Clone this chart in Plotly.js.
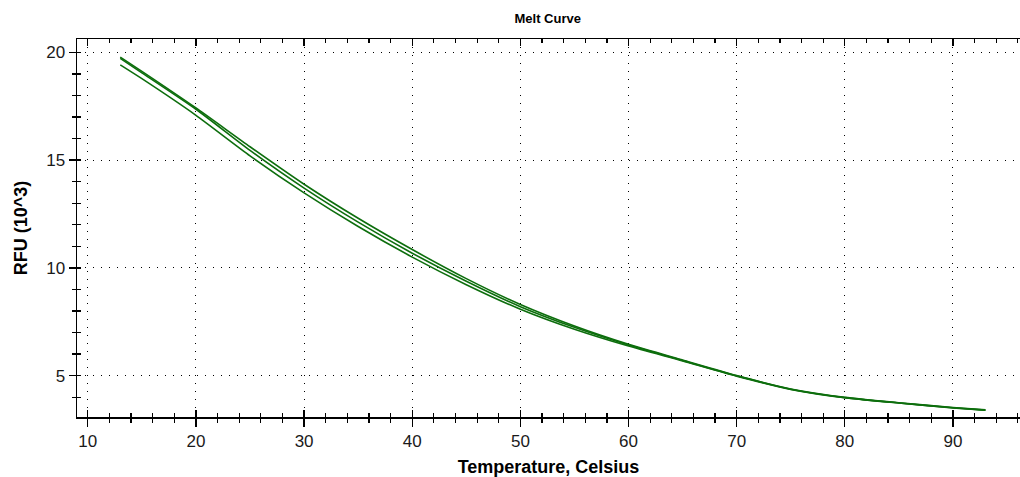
<!DOCTYPE html>
<html>
<head>
<meta charset="utf-8">
<script src="https://cdn.plot.ly/plotly-3.0.1.min.js"></script>
<style>
  html, body { margin: 0; padding: 0; background: #fff; }
  #chart { width: 1020px; height: 477px; }
</style>
</head>
<body>
<div id="chart"></div>
<script>
// Melt curve: fluorescence (RFU x 10^3) against temperature for three wells
const temperature = [13, 15, 20, 25, 30, 35, 40, 45, 50, 55, 60, 65, 70, 75, 80, 85, 90, 93];
const wellA = [19.78, 19.12, 17.42, 15.62, 13.88, 12.30, 10.85, 9.50, 8.30, 7.30, 6.45, 5.72, 5.00, 4.38, 3.99, 3.74, 3.52, 3.41];
const wellB = [19.72, 19.05, 17.36, 15.45, 13.70, 12.12, 10.68, 9.38, 8.20, 7.24, 6.42, 5.70, 4.99, 4.37, 3.98, 3.73, 3.51, 3.40];
const wellC = [19.42, 18.78, 17.08, 15.20, 13.48, 11.92, 10.50, 9.22, 8.08, 7.15, 6.37, 5.68, 4.97, 4.36, 3.97, 3.73, 3.50, 3.39];

const xTicks = [10, 20, 30, 40, 50, 60, 70, 80, 90];
const yTicks = [5, 10, 15, 20];

const lineColor = '#0d6e0d';
const font = 'Liberation Sans, Arial, sans-serif';

function well(values, name) {
  return {
    x: temperature, y: values, name: name,
    type: 'scatter', mode: 'lines',
    line: { color: lineColor, width: 1.6, shape: 'spline', smoothing: 0.6 },
    hoverinfo: 'x+y+name'
  };
}

const traces = [
  well(wellA, 'A'),
  well(wellB, 'B'),
  well(wellC, 'C'),
  // carrier for the overlay axes that add the inward half of each tick
  { x: [null], y: [null], xaxis: 'x2', yaxis: 'y2', type: 'scatter', mode: 'lines',
    hoverinfo: 'skip', showlegend: false }
];

const xRange = [9.0, 96.2];
const yRange = [3.08, 20.62];

const layout = {
  width: 1020, height: 477,
  margin: { l: 77, r: 0, t: 39, b: 60 },
  paper_bgcolor: '#fff', plot_bgcolor: '#fff',
  showlegend: false,
  font: { family: font, color: '#1a1a1a' },
  title: {
    text: '<b>Melt Curve</b>',
    font: { family: font, size: 13, color: '#000' },
    x: 0.537, xanchor: 'center', y: 0.962, yanchor: 'middle'
  },
  xaxis: {
    range: xRange, tickvals: xTicks, ticktext: xTicks.map(String),
    ticks: 'outside', ticklen: 8, tickwidth: 1.3, tickcolor: '#000',
    showline: true, linecolor: '#000', linewidth: 1.5,
    showgrid: true, gridcolor: '#000', gridwidth: 1, griddash: '1px,7px',
    zeroline: false,
    tickfont: { family: font, size: 17, color: '#1a1a1a' },
    minor: { dtick: 2, tick0: 0, ticks: 'outside', ticklen: 4, tickwidth: 1.2, tickcolor: '#000', showgrid: false },
    title: { text: '<b>Temperature, Celsius</b>', font: { family: font, size: 18, color: '#000' }, standoff: 14 }
  },
  yaxis: {
    range: yRange, tickvals: yTicks, ticktext: yTicks.map(String),
    ticks: 'outside', ticklen: 7, tickwidth: 1.3, tickcolor: '#000',
    showline: true, linecolor: '#000', linewidth: 1.5,
    showgrid: true, gridcolor: '#000', gridwidth: 1, griddash: '1px,7px',
    zeroline: false,
    tickfont: { family: font, size: 17, color: '#1a1a1a' },
    minor: { dtick: 1, tick0: 0, ticks: 'outside', ticklen: 4, tickwidth: 1.2, tickcolor: '#000', showgrid: false },
    title: { text: '<b>RFU (10^3)</b>', font: { family: font, size: 18, color: '#000' }, standoff: 14 }
  },
  xaxis2: {
    overlaying: 'x', anchor: 'y2', side: 'bottom', range: xRange,
    tickvals: xTicks, showticklabels: false,
    ticks: 'inside', ticklen: 7, tickwidth: 1.3, tickcolor: '#000',
    showline: true, linecolor: '#000', linewidth: 1.5, mirror: 'allticks',
    showgrid: false, zeroline: false,
    minor: { dtick: 2, tick0: 0, ticks: 'inside', ticklen: 4, tickwidth: 1.2, tickcolor: '#000', showgrid: false }
  },
  yaxis2: {
    overlaying: 'y', anchor: 'x2', side: 'left', range: yRange,
    tickvals: yTicks, showticklabels: false,
    ticks: 'inside', ticklen: 4, tickwidth: 1.3, tickcolor: '#000',
    showline: true, linecolor: '#000', linewidth: 1.5,
    showgrid: false, zeroline: false,
    minor: { dtick: 1, tick0: 0, ticks: 'inside', ticklen: 4, tickwidth: 1.2, tickcolor: '#000', showgrid: false }
  }
};

Plotly.newPlot('chart', traces, layout, { staticPlot: true, displayModeBar: false });
</script>
</body>
</html>
